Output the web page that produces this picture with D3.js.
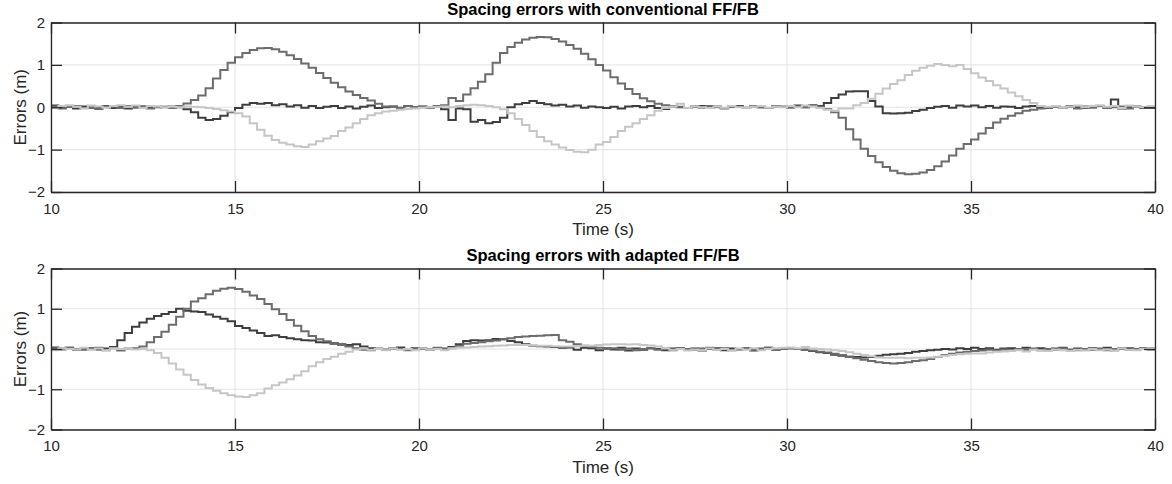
<!DOCTYPE html>
<html>
<head>
<meta charset="utf-8">
<script src="https://cdn.jsdelivr.net/npm/d3@7"></script>
<style>
  body { margin: 0; background: #fff; }
  svg text { font-family: "Liberation Sans", Arial, Helvetica, sans-serif; fill: #262626; }
</style>
</head>
<body>
<div id="chart"></div>
<script>
// sampling of the logged signals (s)
var tStart = 10, tStep = 0.2;

var xTicks = [10, 15, 20, 25, 30, 35, 40];
var yTicks = [-2, -1, 0, 1, 2];
var titles = ["Spacing errors with conventional FF/FB", "Spacing errors with adapted FF/FB"];

// conventional FF/FB, one value every 0.2 s from 10 to 40 s
var convDark = [
  0.04, -0.02, 0.01, -0.03, 0.02, -0.01, 0.0, 0.03, -0.02, 0.01,
  -0.03, 0.01, 0.02, -0.02, 0.0, 0.01, -0.01, 0.0, -0.05, -0.12,
  -0.25, -0.3, -0.28, -0.2, -0.12, -0.02, 0.06, 0.1, 0.08, 0.1,
  0.05, 0.07, 0.02, 0.05, -0.01, 0.03, -0.02, 0.01, 0.03, -0.02,
  0.02, -0.03, 0.01, 0.04, -0.02, 0.0, 0.02, -0.01, 0.03, 0.0,
  0.02, -0.01, 0.03, -0.05, -0.3, -0.03, -0.05, -0.34, -0.3, -0.38,
  -0.35, -0.25, 0.0, 0.07, 0.1, 0.15, 0.1, 0.07, 0.04, 0.06,
  0.02, 0.04, -0.01, 0.02, 0.0, -0.02, 0.01, -0.03, 0.02, 0.03,
  0.0, 0.03, -0.02, -0.04, 0.02, 0.0, -0.02, 0.01, 0.03, -0.01,
  0.02, -0.02, 0.01, 0.03, -0.01, 0.02, 0.0, -0.02, 0.03, 0.01,
  0.02, 0.04, 0.0, 0.05, 0.03, 0.1, 0.22, 0.3, 0.37, 0.38,
  0.38, 0.15, 0.02, -0.14, -0.15, -0.14, -0.13, -0.09, -0.06, -0.02,
  0.01, 0.03, -0.01, 0.04, 0.02, 0.04, 0.0, 0.03, -0.01, 0.02,
  0.01, -0.02, 0.02, 0.03, 0.0, -0.02, 0.02, -0.01, 0.03, 0.0,
  -0.02, 0.01, 0.03, -0.01, 0.18, -0.03, 0.0, 0.02, -0.02, 0.01,
  0.0
];
var convMid = [
  0.02, -0.03, 0.01, 0.03, -0.02, 0.0, -0.04, 0.02, 0.01, -0.02,
  0.03, -0.01, 0.02, -0.03, 0.01, 0.0, 0.02, 0.03, 0.09, 0.17,
  0.28, 0.45, 0.68, 0.88, 1.05, 1.18, 1.28, 1.35, 1.39, 1.4,
  1.37, 1.31, 1.23, 1.14, 1.03, 0.93, 0.81, 0.69, 0.58, 0.47,
  0.37, 0.29, 0.22, 0.16, 0.08, 0.02, 0.01, -0.02, 0.03, 0.0,
  0.01, -0.02, 0.02, 0.05, 0.22, 0.15, 0.3, 0.45, 0.6, 0.78,
  1.05, 1.28, 1.42, 1.52, 1.6, 1.64, 1.66, 1.65, 1.61, 1.55,
  1.47, 1.38, 1.26, 1.13, 1.0, 0.87, 0.71, 0.56, 0.43, 0.31,
  0.21, 0.14, 0.08, 0.05, 0.02, 0.01, -0.02, 0.02, -0.01, 0.03,
  0.0, -0.03, 0.02, 0.01, -0.02, 0.03, 0.0, -0.02, 0.02, 0.01,
  -0.01, 0.02, 0.0, 0.03, 0.01, -0.04, -0.12, -0.25, -0.52, -0.76,
  -0.98, -1.15, -1.3, -1.41, -1.5, -1.56, -1.58, -1.57, -1.54, -1.48,
  -1.39, -1.28, -1.14, -0.98, -0.87, -0.76, -0.62, -0.49, -0.36, -0.27,
  -0.2, -0.14, -0.08, -0.06, -0.03, -0.01, 0.02, -0.02, 0.01, -0.03,
  0.02, -0.01, 0.03, -0.02, 0.0, 0.02, -0.03, 0.01, 0.0, -0.02,
  0.01
];
var convLight = [
  -0.02, 0.03, 0.05, 0.01, -0.03, 0.04, 0.02, -0.01, 0.03, 0.05,
  0.01, 0.04, -0.02, 0.03, 0.02, 0.0, 0.01, 0.0, 0.02, 0.01,
  0.0, -0.02, -0.04, -0.07, -0.1, -0.14, -0.22, -0.38, -0.53, -0.67,
  -0.77, -0.84, -0.88, -0.92, -0.94, -0.88, -0.8, -0.74, -0.68, -0.56,
  -0.48, -0.38, -0.28, -0.19, -0.14, -0.1, -0.08, -0.06, -0.04, -0.03,
  -0.01, 0.0, 0.01, 0.02, 0.0, 0.03, 0.05, 0.06, 0.05, 0.03,
  0.0, -0.05, -0.14, -0.28, -0.42, -0.56, -0.7, -0.8, -0.88, -0.95,
  -1.01, -1.05, -1.06, -1.0, -0.88, -0.82, -0.7, -0.56, -0.46, -0.38,
  -0.28, -0.19, -0.08, -0.02, 0.01, 0.08, -0.02, 0.02, 0.0, -0.02,
  0.02, -0.01, 0.03, 0.0, -0.02, 0.01, 0.03, -0.01, 0.02, 0.0,
  0.03, 0.0, 0.04, 0.02, -0.02, -0.06, -0.08, -0.03, -0.03, 0.05,
  0.1, 0.2, 0.32, 0.44, 0.55, 0.64, 0.76, 0.86, 0.93, 0.98,
  1.02, 1.0, 0.97, 1.0, 0.9, 0.8, 0.7, 0.62, 0.52, 0.44,
  0.35, 0.26, 0.17, 0.1, 0.03, 0.01, 0.03, -0.01, 0.02, 0.04,
  0.0, 0.03, 0.05, 0.01, 0.03, -0.02, 0.04, 0.02, 0.0, 0.03,
  0.02
];

// adapted FF/FB, same sampling
var adaptDark = [
  0.04, 0.01, 0.03, -0.02, 0.0, 0.02, -0.01, 0.01, 0.05, 0.22,
  0.4, 0.55, 0.66, 0.75, 0.82, 0.87, 0.92, 1.0, 0.95, 0.93,
  0.92, 0.86, 0.8, 0.75, 0.69, 0.57, 0.52, 0.46, 0.4, 0.32,
  0.34, 0.3, 0.27, 0.24, 0.22, 0.21, 0.17, 0.16, 0.13, 0.12,
  0.1, 0.12, 0.06, 0.02, 0.0, -0.02, 0.01, 0.04, -0.01, 0.02,
  0.0, -0.02, 0.02, 0.01, 0.05, 0.12, 0.2, 0.22, 0.21, 0.22,
  0.25, 0.24, 0.2, 0.17, 0.12, 0.08, 0.07, 0.06, 0.05, 0.03,
  0.04, -0.02, 0.03, 0.02, -0.03, 0.02, -0.01, 0.03, -0.04, 0.01,
  -0.02, 0.02, 0.0, -0.03, 0.01, 0.02, -0.02, 0.01, -0.04, 0.0,
  0.02, -0.03, 0.01, -0.01, 0.02, -0.04, 0.0, 0.03, -0.02, 0.01,
  0.02, 0.0, -0.02, -0.05, -0.08, -0.1, -0.14, -0.17, -0.19, -0.2,
  -0.21, -0.2, -0.17, -0.14, -0.13, -0.12, -0.1, -0.07, -0.05, -0.03,
  -0.02, 0.0, -0.01, 0.02, 0.0, 0.03, 0.0, 0.02, -0.02, 0.01,
  0.02, -0.01, 0.03, 0.0, 0.02, -0.02, 0.01, 0.03, -0.03, 0.01,
  0.0, 0.02, -0.02, 0.03, -0.03, 0.0, 0.02, -0.02, 0.01, 0.02,
  0.0
];
var adaptMid = [
  0.02, -0.01, 0.03, 0.0, -0.02, 0.01, 0.03, -0.03, 0.02, -0.04,
  0.01, 0.02, 0.06, 0.17, 0.3, 0.43, 0.6, 0.8, 1.0, 1.18,
  1.26, 1.36, 1.45, 1.5, 1.52, 1.49, 1.42, 1.33, 1.24, 1.12,
  0.99, 0.87, 0.72, 0.58, 0.44, 0.32, 0.24, 0.19, 0.15, 0.1,
  0.06, 0.02, -0.02, -0.03, 0.01, -0.02, 0.02, 0.0, -0.03, 0.01,
  0.02, -0.01, 0.03, 0.0, 0.02, 0.08, 0.13, 0.15, 0.17, 0.19,
  0.21, 0.24, 0.27, 0.3, 0.31, 0.32, 0.33, 0.34, 0.35, 0.22,
  0.18, 0.12, 0.08, 0.05, 0.03, 0.0, 0.02, -0.02, 0.01, -0.03,
  0.0, 0.02, -0.02, 0.01, -0.03, 0.02, 0.0, -0.02, 0.01, 0.03,
  -0.01, 0.02, -0.03, 0.0, 0.02, -0.02, 0.01, 0.03, -0.01, 0.0,
  0.02, 0.0, -0.02, -0.04, -0.07, -0.09, -0.12, -0.15, -0.19, -0.23,
  -0.27, -0.3, -0.33, -0.35, -0.36, -0.35, -0.33, -0.3, -0.28, -0.25,
  -0.2, -0.15, -0.12, -0.09, -0.07, -0.05, -0.04, -0.02, -0.04, -0.01,
  -0.03, 0.0, -0.02, 0.01, -0.03, 0.0, -0.02, 0.02, -0.01, -0.03,
  0.0, -0.02, 0.01, -0.03, 0.0, 0.02, -0.02, 0.0, 0.02, -0.01,
  0.01
];
var adaptLight = [
  -0.03, 0.02, 0.0, -0.01, 0.03, -0.02, 0.01, -0.03, 0.02, 0.0,
  0.01, -0.01, 0.0, -0.03, -0.1, -0.22, -0.36, -0.51, -0.64, -0.77,
  -0.88, -0.97, -1.04, -1.1, -1.15, -1.18, -1.19, -1.15, -1.1, -0.98,
  -0.9, -0.83, -0.75, -0.66, -0.55, -0.43, -0.33, -0.25, -0.19, -0.12,
  -0.07, -0.01, 0.01, -0.02, 0.0, -0.03, 0.01, -0.02, 0.0, -0.03,
  0.01, -0.02, 0.0, -0.03, 0.02, 0.03, 0.04, 0.05, 0.06, 0.07,
  0.08, 0.09, 0.1, 0.1, 0.1, 0.09, 0.08, 0.08, 0.07, 0.06,
  0.06, 0.07, 0.08, 0.08, 0.1, 0.11, 0.12, 0.12, 0.11, 0.12,
  0.1, 0.09, 0.06, 0.02, -0.02, 0.0, -0.04, -0.01, -0.03, 0.01,
  -0.02, 0.0, -0.04, 0.01, -0.02, 0.02, -0.03, 0.0, 0.02, 0.03,
  0.04, 0.02, 0.05, 0.01, 0.0, -0.01, -0.03, -0.05, -0.08, -0.12,
  -0.15, -0.18, -0.21, -0.22, -0.22, -0.22, -0.23, -0.22, -0.22, -0.21,
  -0.19, -0.17, -0.15, -0.13, -0.12, -0.11, -0.11, -0.09, -0.07, -0.06,
  -0.05, -0.03, -0.06, -0.02, -0.04, -0.05, -0.01, -0.03, -0.05, -0.02,
  -0.04, 0.0, -0.03, -0.01, -0.04, 0.01, -0.02, -0.03, 0.0, 0.02,
  0.0
];

var panels = [
  { title: titles[0], series: [convDark, convMid, convLight], top: 22.5, bottom: 192 },
  { title: titles[1], series: [adaptDark, adaptMid, adaptLight], top: 268.5, bottom: 429.5 }
];
var colors = ["#3e3e3e", "#6c6c6c", "#c6c6c6"];

var width = 1172, height = 484;
var left = 51, right = 1155;

var svg = d3.select("#chart")
  .append("svg")
  .attr("width", width)
  .attr("height", height);

var x = d3.scaleLinear()
  .domain([10, 40])
  .range([left, right]);

panels.forEach(function (p) {
  var y = d3.scaleLinear()
    .domain([-2, 2])
    .range([p.bottom, p.top]);

  var g = svg.append("g");

  // grid lines
  g.selectAll(".vgrid")
    .data(xTicks)
    .enter()
    .append("line")
    .attr("x1", function (d) { return x(d); })
    .attr("x2", function (d) { return x(d); })
    .attr("y1", p.top)
    .attr("y2", p.bottom)
    .attr("stroke", "#e3e3e3")
    .attr("stroke-width", 1);
  g.selectAll(".hgrid")
    .data(yTicks)
    .enter()
    .append("line")
    .attr("x1", left)
    .attr("x2", right)
    .attr("y1", function (d) { return y(d); })
    .attr("y2", function (d) { return y(d); })
    .attr("stroke", "#e3e3e3")
    .attr("stroke-width", 1);

  // the three signals, drawn as stairs
  var line = d3.line()
    .x(function (d, i) { return x(tStart + i * tStep); })
    .y(function (d) { return y(d); })
    .curve(d3.curveStepAfter);

  g.selectAll(".sig")
    .data(p.series)
    .enter()
    .append("path")
    .attr("fill", "none")
    .attr("stroke", function (d, i) { return colors[i]; })
    .attr("stroke-width", 2)
    .attr("d", function (d) { return line(d); });

  // axes, ticks point inward (MATLAB look)
  var tick = 11;
  var fmt = d3.format("d");
  g.append("g")
    .attr("transform", "translate(0," + p.bottom + ")")
    .call(d3.axisBottom(x).tickValues(xTicks).tickFormat(fmt).tickSizeInner(-tick).tickSizeOuter(0).tickPadding(11))
    .call(styleAxis);
  g.append("g")
    .attr("transform", "translate(0," + p.top + ")")
    .call(d3.axisTop(x).tickValues(xTicks).tickSizeInner(-tick).tickSizeOuter(0).tickFormat(""))
    .call(styleAxis);
  g.append("g")
    .attr("transform", "translate(" + left + ",0)")
    .call(d3.axisLeft(y).tickValues(yTicks).tickFormat(fmt).tickSizeInner(-tick).tickSizeOuter(0).tickPadding(6))
    .call(styleAxis);
  g.append("g")
    .attr("transform", "translate(" + right + ",0)")
    .call(d3.axisRight(y).tickValues(yTicks).tickSizeInner(-tick).tickSizeOuter(0).tickFormat(""))
    .call(styleAxis);

  // title
  g.append("text")
    .attr("x", (left + right) / 2)
    .attr("y", p.top - 7.5)
    .attr("text-anchor", "middle")
    .style("font-size", "16.5px")
    .style("font-weight", "bold")
    .style("fill", "#000")
    .text(p.title);

  // x label
  g.append("text")
    .attr("x", (left + right) / 2)
    .attr("y", p.bottom + 43)
    .attr("text-anchor", "middle")
    .style("font-size", "17px")
    .text("Time (s)");

  // y label
  g.append("text")
    .attr("transform", "translate(26," + ((p.top + p.bottom) / 2) + ") rotate(-90)")
    .attr("text-anchor", "middle")
    .style("font-size", "17px")
    .text("Errors (m)");
});

function styleAxis(a) {
  a.attr("font-family", null).attr("font-size", null);
  a.select(".domain").attr("stroke", "#262626").attr("stroke-width", 1.3);
  a.selectAll(".tick line").attr("stroke", "#262626").attr("stroke-width", 1.3);
  a.selectAll(".tick text")
    .style("font-size", "15px")
    .style("fill", "#262626");
}
</script>
</body>
</html>
